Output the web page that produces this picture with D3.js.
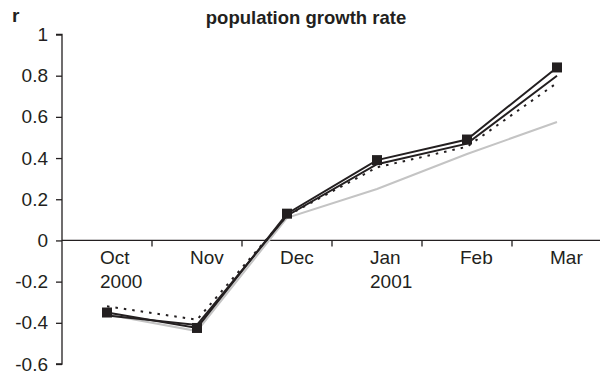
<!DOCTYPE html>
<html>
<head>
<meta charset="utf-8">
<script src="https://cdn.jsdelivr.net/npm/d3@7/dist/d3.min.js"></script>
<style>
  html, body { margin: 0; padding: 0; background: #fff; }
  svg { display: block; font-family: "Liberation Sans", Arial, Helvetica, sans-serif; }
</style>
</head>
<body>
<svg id="chart" width="600" height="375"></svg>
<script>
// Monthly categories (second line of label shows the year)
const months = ["Oct", "Nov", "Dec", "Jan", "Feb", "Mar"];
const years  = ["2000", "", "", "2001", "", ""];

// Population growth rate r per month
const observed  = [-0.35, -0.425, 0.13, 0.39, 0.49, 0.84];   // solid, square markers
const modelA    = [-0.365, -0.41, 0.12, 0.37, 0.47, 0.80];   // solid, no markers
const modelB    = [-0.32, -0.385, 0.12, 0.355, 0.455, 0.765]; // dotted
const modelC    = [-0.36, -0.44, 0.11, 0.25, 0.42, 0.575];   // grey

const yTicks = [1, 0.8, 0.6, 0.4, 0.2, 0, -0.2, -0.4, -0.6];
const yTickLabels = ["1", "0.8", "0.6", "0.4", "0.2", "0", "-0.2", "-0.4", "-0.6"];

const ink = "#231f20";
const svg = d3.select("#chart");

const x = d3.scaleBand().domain(months).range([62, 602]);
const y = d3.scaleLinear().domain([-0.6, 1]).range([364, 34.5]);
const cx = m => x(m) + x.bandwidth() / 2;

// Title and axis name
svg.append("text")
  .attr("x", 306).attr("y", 24)
  .attr("text-anchor", "middle")
  .attr("font-weight", "bold")
  .attr("font-size", 18.5)
  .attr("fill", ink)
  .text("population growth rate");

svg.append("text")
  .attr("x", 12).attr("y", 22)
  .attr("font-weight", "bold")
  .attr("font-size", 19)
  .attr("fill", ink)
  .text("r");

// Y axis
const yAxis = d3.axisLeft(y)
  .tickValues(yTicks)
  .tickSize(6)
  .tickPadding(8)
  .tickFormat((d, i) => yTickLabels[i]);

const gy = svg.append("g").attr("transform", "translate(62,0)").call(yAxis);
gy.select(".domain").attr("stroke", ink).attr("stroke-width", 1.3).attr("d", `M-6,${y(1)}H0V${y(-0.6)}H-6`);
gy.selectAll(".tick line").attr("stroke", ink).attr("stroke-width", 1.3);
gy.selectAll(".tick text")
  .attr("font-size", 19)
  .attr("font-family", "Liberation Sans, Arial, sans-serif")
  .attr("fill", ink);

// X axis along r = 0, ticks between categories
const gx = svg.append("g").attr("transform", `translate(0,${y(0)})`);
gx.append("line")
  .attr("x1", 62).attr("x2", 600)
  .attr("stroke", ink).attr("stroke-width", 1.3);
gx.selectAll("line.tick")
  .data(months.slice(1))
  .join("line")
  .attr("class", "tick")
  .attr("x1", d => x(d)).attr("x2", d => x(d))
  .attr("y1", 0).attr("y2", 6)
  .attr("stroke", ink).attr("stroke-width", 1.3);

const labels = gx.selectAll("text.cat")
  .data(months)
  .join("text")
  .attr("class", "cat")
  .attr("font-size", 19)
  .attr("fill", ink);
labels.append("tspan")
  .attr("x", d => cx(d) - 7).attr("y", 24)
  .text(d => d);
labels.append("tspan")
  .attr("x", d => cx(d) - 7).attr("y", 48)
  .text((d, i) => years[i]);

// Series lines
const line = d3.line().x((d, i) => cx(months[i])).y(d => y(d));

svg.append("path").datum(modelC)
  .attr("d", line).attr("fill", "none")
  .attr("stroke", "#c4c4c4").attr("stroke-width", 2);

svg.append("path").datum(modelB)
  .attr("d", line).attr("fill", "none")
  .attr("stroke", ink).attr("stroke-width", 2)
  .attr("stroke-dasharray", "2.5,6");

svg.append("path").datum(modelA)
  .attr("d", line).attr("fill", "none")
  .attr("stroke", ink).attr("stroke-width", 2);

svg.append("path").datum(observed)
  .attr("d", line).attr("fill", "none")
  .attr("stroke", ink).attr("stroke-width", 2);

// Square markers on the observed series
const ms = 10;
svg.selectAll("rect.marker")
  .data(observed)
  .join("rect")
  .attr("class", "marker")
  .attr("x", (d, i) => cx(months[i]) - ms / 2)
  .attr("y", d => y(d) - ms / 2)
  .attr("width", ms).attr("height", ms)
  .attr("fill", ink);
</script>
</body>
</html>
